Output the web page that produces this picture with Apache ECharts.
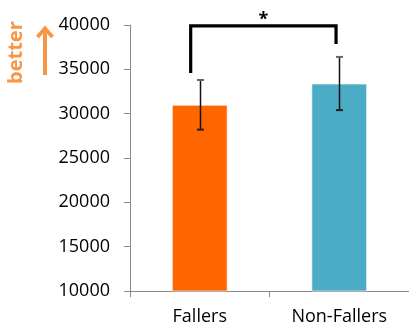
<!DOCTYPE html>
<html><head><meta charset="utf-8">
<script src="https://cdn.jsdelivr.net/npm/echarts@6/dist/echarts.min.js"></script>
<style>html,body{margin:0;padding:0;background:#fff}#c{width:409px;height:327px}</style>
</head><body><div id="c"></div>
<script>
const categories = ['Fallers', 'Non-Fallers'];
const means = [31000, 33400];
const errors = [2800, 3000];
const barColors = ['#FF6600', '#4BACC6'];
const yTicks = [10000, 15000, 20000, 25000, 30000, 35000, 40000];
// significance bracket: top level, left leg end, right leg end
const bracketTop = 39900;
const bracketLegs = [34600, 37850];
const sigLabel = '*';

const chart = echarts.init(document.getElementById('c'), null, {renderer: 'canvas'});
const FONT = 'Open Sans';

chart.setOption({
  animation: false,
  grid: {left: 130, top: 25, bottom: 36, right: -4, containLabel: false},
  xAxis: {
    type: 'category', data: categories,
    axisLine: {lineStyle: {color: '#8a8a8a', width: 1}},
    axisTick: {show: true, length: 6, lineStyle: {color: '#8a8a8a'}},
    axisLabel: {color: '#000', fontFamily: FONT, fontSize: 18, margin: 17}
  },
  yAxis: {
    type: 'value', min: yTicks[0], max: yTicks[yTicks.length - 1], interval: 5000,
    axisLine: {show: true, lineStyle: {color: '#8a8a8a', width: 1}},
    axisTick: {show: true, length: 6, lineStyle: {color: '#8a8a8a'}},
    splitLine: {show: false},
    axisLabel: {color: '#000', fontFamily: FONT, fontSize: 18, margin: 20, formatter: v => String(v)}
  },
  graphic: [
    {type: 'text', x: 6, y: 84, originX: 0, originY: 0, rotation: Math.PI / 2,
     style: {text: 'better', fill: '#F79646', font: 'bold 20px "Open Sans"', textAlign: 'left', textVerticalAlign: 'top'}},
    {type: 'line', shape: {x1: 45, y1: 75, x2: 45, y2: 31}, style: {stroke: '#F79646', lineWidth: 4}},
    {type: 'polyline', shape: {points: [[37.5, 37], [45, 28.5], [52.5, 37]]}, style: {stroke: '#F79646', lineWidth: 4, fill: null, lineJoin: 'miter'}}
  ],
  series: [
    {
      type: 'bar', barWidth: '40%',
      data: means.map((v, i) => ({value: v, itemStyle: {color: barColors[i]}})),
      itemStyle: {borderColor: 'rgba(255,255,255,0.6)', borderWidth: 1},
      z: 2
    },
    {
      type: 'custom', z: 5,
      data: means.map((m, i) => [i, m - errors[i], m + errors[i]]),
      renderItem: function (params, api) {
        const lo = api.coord([api.value(0), api.value(1)]);
        const hi = api.coord([api.value(0), api.value(2)]);
        const x = Math.round(lo[0]) + 0.5;
        const w = 3.5;
        return {type: 'group', children: [
          {type: 'line', shape: {x1: x, y1: hi[1], x2: x, y2: lo[1]}, style: {stroke: '#111', lineWidth: 1.5}},
          {type: 'line', shape: {x1: x - w, y1: hi[1], x2: x + w, y2: hi[1]}, style: {stroke: '#666', lineWidth: 2}},
          {type: 'line', shape: {x1: x - w, y1: lo[1], x2: x + w, y2: lo[1]}, style: {stroke: '#222', lineWidth: 2}}
        ]};
      }
    },
    {
      type: 'custom', z: 6,
      data: [[0, 1, bracketTop, bracketLegs[0], bracketLegs[1]]],
      renderItem: function (params, api) {
        const band = api.size([1, 0])[0];
        const l = api.coord([api.value(0), api.value(2)]);
        const r = api.coord([api.value(1), api.value(2)]);
        const lx = l[0] - band * 0.065;
        const rx = r[0] - band * 0.023;
        const ly = api.coord([api.value(0), api.value(3)])[1];
        const ry = api.coord([api.value(1), api.value(4)])[1];
        const ty = l[1];
        return {type: 'group', children: [
          {type: 'polyline', shape: {points: [[lx, ly], [lx, ty], [rx, ty], [rx, ry]]},
           style: {stroke: '#000', lineWidth: 3.2, fill: null, lineJoin: 'miter'}},
          {type: 'text', x: (lx + rx) / 2, y: ty + 3,
           style: {text: sigLabel, fill: '#000', font: 'bold 18px "Open Sans"', textAlign: 'center', textVerticalAlign: 'bottom'}}
        ]};
      }
    }
  ]
});
</script></body></html>
